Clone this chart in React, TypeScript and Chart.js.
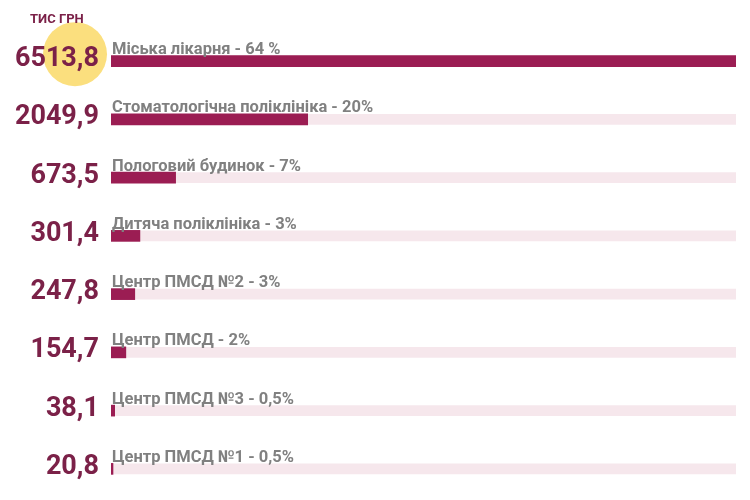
import React, { useEffect, useRef } from "react";
import { Chart, registerables } from "chart.js";

Chart.register(...registerables);

const categories = [
  "Міська лікарня - 64 %",
  "Стоматологічна поліклініка - 20%",
  "Пологовий будинок - 7%",
  "Дитяча поліклініка - 3%",
  "Центр ПМСД №2 - 3%",
  "Центр ПМСД - 2%",
  "Центр ПМСД №3 - 0,5%",
  "Центр ПМСД №1 - 0,5%",
];
const values = [6513.8, 2049.9, 673.5, 301.4, 247.8, 154.7, 38.1, 20.8];
const valueLabels = ["6513,8", "2049,9", "673,5", "301,4", "247,8", "154,7", "38,1", "20,8"];
const unitLabel = "ТИС ГРН";
const maxValue = 6513.8;
const trackValues = categories.map(() => maxValue);

const BAR = "#9b1d53";
const TRACK = "#f6e7ec";
const VALUE_COLOR = "#7b2148";
const LABEL_COLOR = "#808080";

const labelsPlugin = {
  id: "customLabels",
  beforeDatasetsDraw(chart: any) {
    const ctx = chart.ctx;
    const meta = chart.getDatasetMeta(1);
    const el = meta.data[0];
    if (!el) return;
    ctx.save();
    ctx.fillStyle = "#fbdf7e";
    ctx.beginPath();
    ctx.arc(75, el.y - 7, 32, 0, Math.PI * 2);
    ctx.fill();
    ctx.restore();
  },
  afterDatasetsDraw(chart: any) {
    const ctx = chart.ctx;
    const meta = chart.getDatasetMeta(1);
    ctx.save();
    meta.data.forEach((el: any, i: number) => {
      const y = el.y;
      const left = chart.chartArea.left;
      ctx.fillStyle = VALUE_COLOR;
      ctx.font = "bold 27px Roboto";
      ctx.textAlign = "right";
      ctx.textBaseline = "alphabetic";
      ctx.fillText(valueLabels[i], left - 12, y + 5);
      ctx.fillStyle = LABEL_COLOR;
      ctx.font = "bold 16.5px Roboto";
      ctx.textAlign = "left";
      ctx.fillText(categories[i], left + 1, y - 7);
    });
    ctx.fillStyle = VALUE_COLOR;
    ctx.font = "bold 13px Roboto";
    ctx.textAlign = "left";
    ctx.fillText(unitLabel, 30, 23);
    ctx.restore();
  },
};

export default function App() {
  const ref = useRef<HTMLCanvasElement>(null);
  useEffect(() => {
    if (!ref.current) return;
    const chart = new Chart(ref.current, {
      type: "bar",
      data: {
        labels: categories,
        datasets: [
          {
            data: trackValues,
            backgroundColor: TRACK,
            barThickness: 10,
            grouped: false,
            order: 2,
          } as any,
          {
            data: values,
            backgroundColor: BAR,
            barThickness: 11,
            grouped: false,
            order: 1,
          } as any,
        ],
      },
      options: {
        indexAxis: "y",
        animation: false,
        responsive: false,
        maintainAspectRatio: false,
        layout: { padding: { left: 111, right: 14, top: 32, bottom: 2 } },
        scales: {
          x: { display: false, min: 0, max: maxValue },
          y: { display: false },
        },
        plugins: {
          legend: { display: false },
          tooltip: { enabled: false },
          title: { display: false },
        },
      },
      plugins: [labelsPlugin],
    });
    return () => chart.destroy();
  }, []);
  return (
    <div style={{ position: "fixed", left: 0, top: 0, width: 750, height: 500, background: "#fff" }}>
      <canvas ref={ref} width={750} height={500} style={{ width: 750, height: 500 }} />
    </div>
  );
}
